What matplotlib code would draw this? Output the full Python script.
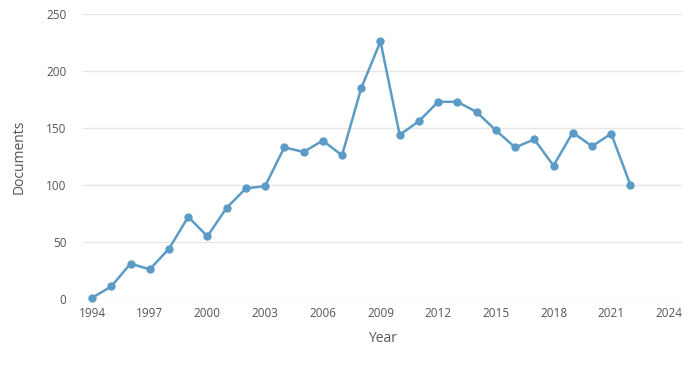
import matplotlib.pyplot as plt

plt.rcParams['font.family'] = ['Open Sans', 'DejaVu Sans']

years = list(range(1994, 2023))
documents = [1, 11, 31, 26, 44, 72, 55, 80, 97, 99,
             133, 129, 139, 126, 185, 226, 144, 156, 173, 173,
             164, 148, 133, 140, 117, 146, 134, 145, 100]
xticks = list(range(1994, 2025, 3))
yticks = [0, 50, 100, 150, 200, 250]

cor = '#5b9bc6'
cinza = '#555555'

fig = plt.figure(figsize=(7, 3.7), dpi=100)
ax = fig.add_axes([0.1186, 0.192, 0.857, 0.770])

ax.plot(years, documents, '-o', color=cor, linewidth=1.8, markersize=5, clip_on=False, zorder=3)

ax.set_xlim(1993.53, 2024.73)
ax.set_ylim(0, 250)
ax.set_xticks(xticks)
ax.set_yticks(yticks)
ax.grid(axis='y', color='#e6e6e6', linewidth=1)
ax.set_axisbelow(True)
for s in ax.spines.values():
    s.set_visible(False)
ax.tick_params(length=0, labelsize=8.5, labelcolor=cinza, pad=6)
ax.tick_params(axis='y', pad=12)

ax.set_xlabel('Year', fontsize=10, color=cinza, labelpad=8)
ax.set_ylabel('Documents', fontsize=10, color=cinza, labelpad=14)

fig.savefig('out.png', dpi=100)
